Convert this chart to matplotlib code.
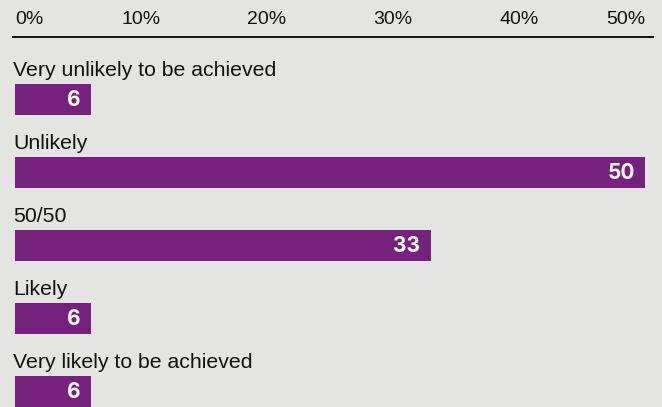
import matplotlib.pyplot as plt

plt.rcParams['font.family'] = ['Liberation Sans', 'DejaVu Sans']

categories = [
    "Very unlikely to be achieved",
    "Unlikely",
    "50/50",
    "Likely",
    "Very likely to be achieved",
]
shares = [6, 50, 33, 6, 6]
tick_values = [0, 10, 20, 30, 40, 50]
tick_labels = ["0%", "10%", "20%", "30%", "40%", "50%"]

BG = "#e4e4e2"
PURPLE = "#77217f"

W, H = 662, 407
fig = plt.figure(figsize=(W / 100, H / 100), dpi=100, facecolor=BG)

# axes run from the rule under the tick labels down to the bottom edge
left_px, right_px, top_px = 13, 653, 37
ax = fig.add_axes([left_px / W, 0, (right_px - left_px) / W, (H - top_px) / H])
ax.set_facecolor(BG)

px_per_unit = 12.6
x0_px = 15
ax.set_xlim(-(x0_px - left_px) / px_per_unit, (right_px - x0_px) / px_per_unit)

row_px = 73
first_px = 99.5
ax.set_ylim((H - first_px) / row_px, (top_px - first_px) / row_px)

bar_h = 31 / row_px
ys = list(range(len(categories)))
ax.barh(ys, shares, height=bar_h, color=PURPLE, left=0)

for y, name, val in zip(ys, categories, shares):
    # category name sits just above its bar
    ax.annotate(name, xy=(0, y - bar_h / 2), xytext=(-1.5, 5.8),
                textcoords="offset points", ha="left", va="baseline",
                fontsize=15.3, color="#111111")
    # value label inside the bar, right aligned
    ax.annotate(str(val), xy=(val, y), xytext=(-7.5, -0.3),
                textcoords="offset points", ha="right", va="center",
                fontsize=15, fontweight="bold", color="white",
                family=["Inter", "DejaVu Sans"])

ax.xaxis.set_ticks_position("top")
ax.set_xticks(tick_values, tick_labels)
ax.tick_params(axis="x", length=0, pad=6.3, labelsize=14, labelcolor="#111111")
ax.set_yticks([])
labels = ax.get_xticklabels()
labels[0].set_ha("left")
labels[-1].set_ha("right")

for side in ["left", "right", "bottom"]:
    ax.spines[side].set_visible(False)
ax.spines["top"].set_color("#111111")
ax.spines["top"].set_linewidth(1.4)

fig.savefig("out.png", dpi=100, facecolor=BG)
